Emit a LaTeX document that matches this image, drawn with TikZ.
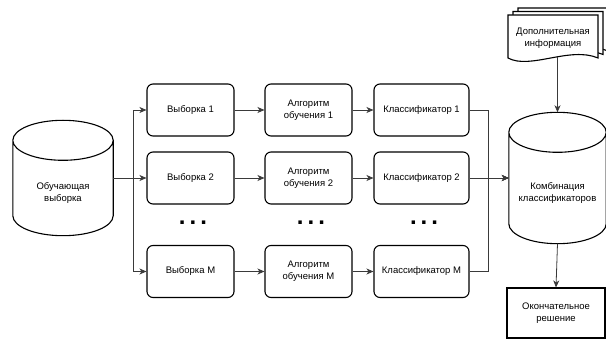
\documentclass[tikz,border=0pt]{standalone}
\usepackage{fontspec}
\setmainfont{Liberation Sans}
\usepackage{tikz}
\usetikzlibrary{shapes.geometric, arrows.meta, positioning, calc}
\definecolor{edgegray}{HTML}{3A3A3A}
\newcommand{\lblfont}{\fontsize{9.5}{12}\selectfont}

% cylinder drawn round a named node
\newcommand{\drawcyl}[1]{%
  \draw[shapeline] let \p1=(#1.north west), \p2=(#1.south east), \n1={(\x2-\x1)/2} in
    (\x1,\y1-20pt) -- (\x1,\y2+20pt)
    arc[start angle=180, end angle=360, x radius=\n1, y radius=20pt]
    -- (\x2,\y1-20pt)
    arc[start angle=0, end angle=180, x radius=\n1, y radius=20pt] -- cycle
    (\x1,\y1-20pt) arc[start angle=180, end angle=360, x radius=\n1, y radius=20pt];}

% one sheet of the document stack
\newcommand{\docpage}[2]{%
  \draw[shapeline] (508+#1,15-#2) -- (598+#1,15-#2) -- (598+#1,58-#2)
    .. controls (570+#1,46-#2) and (530+#1,70-#2) .. (508+#1,58-#2) -- cycle;}

\begin{document}
\begin{tikzpicture}[x=1pt, y=-1pt,
        shapeline/.style={draw=black, fill=white, line width=1.1pt},
        box/.style={rectangle, draw=black, fill=white, line width=1.1pt, rounded corners=6pt, minimum width=87pt, minimum height=52pt, align=center, font=\lblfont},
        cylbox/.style={rectangle, inner sep=0pt},
        lbl/.style={align=center, font=\lblfont},
        dots/.style={font=\fontsize{24}{24}\selectfont\bfseries, inner sep=0pt},
        arr/.style={draw=edgegray, line width=0.8pt, -{Stealth[length=7pt, width=6pt, inset=2pt]}}]

        \useasboundingbox (0,0) rectangle (606,342);

        % Cylinders
        \node [cylbox, minimum width=100pt, minimum height=115pt] (train) at (63,178) {};
        \drawcyl{train}
        \node [lbl] at (63,193) {Обучающая\\выборка};

        \node [cylbox, minimum width=97pt, minimum height=131pt] (comb) at (557.5,178) {};
        \drawcyl{comb}
        \node [lbl] at (557.5,193) {Комбинация\\классификаторов};

        % Samples, algorithms, classifiers
        \node [box] (s1) at (190.5,110) {Выборка 1};
        \node [box] (s2) at (190.5,178) {Выборка 2};
        \node [box] (sM) at (190.5,271.5) {Выборка M};

        \node [box] (a1) at (308.5,110) {Алгоритм\\обучения 1};
        \node [box] (a2) at (308.5,178) {Алгоритм\\обучения 2};
        \node [box] (aM) at (308.5,271.5) {Алгоритм\\обучения M};

        \node [box, minimum width=95pt] (c1) at (421.5,110) {Классификатор 1};
        \node [box, minimum width=95pt] (c2) at (421.5,178) {Классификатор 2};
        \node [box, minimum width=95pt] (cM) at (421.5,271.5) {Классификатор M};

        \node [dots] (d1) at (193,223) {.\,.\,.};
        \node [dots] (d2) at (311,223) {.\,.\,.};
        \node [dots] (d3) at (424,223) {.\,.\,.};

        % Extra information and final decision
        \docpage{10}{7}
        \docpage{5}{3.5}
        \docpage{0}{0}
        \node [lbl, minimum height=38pt] (info) at (553,38) {Дополнительная\\информация};

        \node [rectangle, draw=black, line width=1.1pt, minimum width=98pt, minimum height=50pt, align=center, font=\lblfont] (final) at (556,313) {Окончательное\\решение};

        % Arrows
        \path [arr] (train.east) -- ++(20,0) |- (s1.west);
        \path [arr] (train.east) -- (s2.west);
        \path [arr] (train.east) -- ++(20,0) |- (sM.west);

        \path [arr] (s1) -- (a1);
        \path [arr] (s2) -- (a2);
        \path [arr] (sM) -- (aM);

        \path [arr] (a1) -- (c1);
        \path [arr] (a2) -- (c2);
        \path [arr] (aM) -- (cM);

        \path [arr] (c1.east) -- ++(19,0) |- (comb.west);
        \path [arr] (c2.east) -- (comb.west);
        \path [arr] (cM.east) -- ++(19,0) |- (comb.west);

        \path [arr] (info.south -| comb.north) -- (comb.north);
        \path [arr] (comb.south) -- (final.north);
\end{tikzpicture}
\end{document}
